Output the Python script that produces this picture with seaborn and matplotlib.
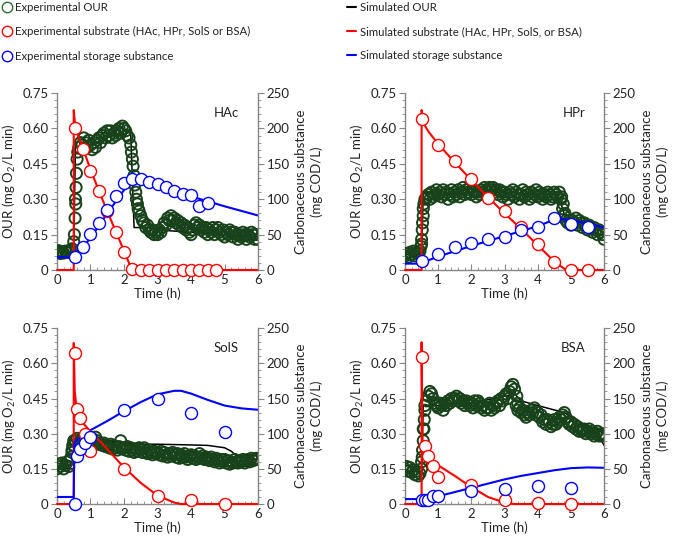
import numpy as np
import matplotlib
matplotlib.use('Agg')
import matplotlib.pyplot as plt
import seaborn as sns
from matplotlib.lines import Line2D
from matplotlib.ticker import MultipleLocator, FuncFormatter

sns.set_style('ticks')
plt.rcParams['font.family'] = ['Lato', 'DejaVu Sans']
plt.rcParams['mathtext.default'] = 'regular'

GREEN = '#18431a'
RED = '#ff0000'
BLUE = '#0000ff'
GREY = '#868686'
TXT = '#222222'
FS = 9.5

# experimental OUR, one value every 0.05 h (rows = half hours)
our_hac = [
    0.075, 0.082, 0.070, 0.078, 0.072, 0.080, 0.074, 0.079, 0.085, 0.090,
    0.120, 0.300, 0.470, 0.520, 0.540, 0.530, 0.560, 0.540, 0.520, 0.550,
    0.530, 0.510, 0.540, 0.520, 0.550, 0.560, 0.540, 0.570, 0.580, 0.560,
    0.590, 0.570, 0.590, 0.560, 0.580, 0.570, 0.590, 0.600, 0.580, 0.610,
    0.600, 0.590, 0.570, 0.560, 0.530, 0.470, 0.400, 0.330, 0.280, 0.250,
    0.230, 0.210, 0.200, 0.180, 0.190, 0.170, 0.160, 0.170, 0.150, 0.160,
    0.150, 0.170, 0.160, 0.180, 0.200, 0.190, 0.220, 0.210, 0.230, 0.210,
    0.220, 0.200, 0.210, 0.190, 0.200, 0.180, 0.190, 0.170, 0.180, 0.160,
    0.150, 0.170, 0.190, 0.200, 0.180, 0.190, 0.170, 0.180, 0.160, 0.180,
    0.150, 0.170, 0.160, 0.180, 0.150, 0.170, 0.180, 0.160, 0.150, 0.170,
    0.140, 0.160, 0.150, 0.170, 0.160, 0.140, 0.160, 0.150, 0.130, 0.150,
    0.140, 0.160, 0.150, 0.130, 0.150, 0.140, 0.160, 0.150, 0.130, 0.150,
    0.130]
our_hpr = [
    0.060, 0.070, 0.055, 0.075, 0.065, 0.080, 0.060, 0.075, 0.070, 0.080,
    0.110, 0.260, 0.300, 0.310, 0.320, 0.300, 0.330, 0.310, 0.320, 0.340,
    0.320, 0.330, 0.310, 0.340, 0.320, 0.330, 0.300, 0.320, 0.340, 0.310,
    0.330, 0.320, 0.340, 0.310, 0.330, 0.350, 0.320, 0.340, 0.330, 0.350,
    0.320, 0.340, 0.330, 0.310, 0.330, 0.320, 0.340, 0.330, 0.350, 0.340,
    0.330, 0.350, 0.340, 0.350, 0.330, 0.340, 0.320, 0.340, 0.330, 0.310,
    0.330, 0.320, 0.300, 0.330, 0.320, 0.340, 0.310, 0.330, 0.320, 0.300,
    0.320, 0.340, 0.310, 0.330, 0.320, 0.300, 0.330, 0.310, 0.320, 0.340,
    0.310, 0.330, 0.320, 0.300, 0.320, 0.310, 0.330, 0.320, 0.300, 0.310,
    0.330, 0.320, 0.310, 0.330, 0.300, 0.260, 0.230, 0.210, 0.200, 0.210,
    0.190, 0.210, 0.200, 0.220, 0.190, 0.210, 0.200, 0.180, 0.200, 0.190,
    0.170, 0.190, 0.180, 0.160, 0.180, 0.170, 0.150, 0.170, 0.160, 0.150,
    0.130]
our_sols = [
    0.150, 0.170, 0.160, 0.175, 0.150, 0.165, 0.180, 0.160, 0.190, 0.220,
    0.250, 0.270, 0.280, 0.260, 0.270, 0.280, 0.260, 0.275, 0.270, 0.280,
    0.270, 0.280, 0.260, 0.285, 0.270, 0.255, 0.260, 0.250, 0.260, 0.245,
    0.250, 0.240, 0.255, 0.235, 0.250, 0.240, 0.230, 0.245, 0.270, 0.235,
    0.240, 0.230, 0.245, 0.225, 0.240, 0.230, 0.220, 0.235, 0.225, 0.240,
    0.230, 0.220, 0.240, 0.225, 0.215, 0.230, 0.220, 0.210, 0.225, 0.215,
    0.220, 0.210, 0.225, 0.205, 0.220, 0.210, 0.200, 0.215, 0.205, 0.220,
    0.210, 0.200, 0.215, 0.195, 0.210, 0.200, 0.215, 0.200, 0.190, 0.205,
    0.210, 0.195, 0.205, 0.190, 0.200, 0.215, 0.195, 0.205, 0.190, 0.200,
    0.195, 0.185, 0.200, 0.190, 0.180, 0.195, 0.185, 0.175, 0.190, 0.180,
    0.190, 0.175, 0.185, 0.170, 0.180, 0.175, 0.190, 0.180, 0.175, 0.185,
    0.180, 0.190, 0.175, 0.185, 0.190, 0.180, 0.195, 0.185, 0.190, 0.195,
    0.190]
our_bsa = [
    0.150, 0.160, 0.140, 0.155, 0.135, 0.145, 0.125, 0.140, 0.120, 0.130,
    0.180, 0.320, 0.420, 0.440, 0.460, 0.480, 0.470, 0.450, 0.430, 0.420,
    0.410, 0.430, 0.420, 0.400, 0.430, 0.420, 0.440, 0.430, 0.450, 0.440,
    0.450, 0.460, 0.440, 0.450, 0.430, 0.440, 0.420, 0.440, 0.430, 0.420,
    0.430, 0.410, 0.440, 0.420, 0.440, 0.430, 0.410, 0.420, 0.400, 0.410,
    0.410, 0.430, 0.400, 0.420, 0.410, 0.430, 0.440, 0.420, 0.450, 0.440,
    0.460, 0.470, 0.450, 0.480, 0.500, 0.510, 0.490, 0.420, 0.400, 0.410,
    0.390, 0.400, 0.380, 0.370, 0.390, 0.380, 0.400, 0.390, 0.410, 0.380,
    0.390, 0.370, 0.380, 0.350, 0.360, 0.340, 0.360, 0.350, 0.330, 0.340,
    0.360, 0.340, 0.350, 0.370, 0.360, 0.380, 0.390, 0.370, 0.350, 0.340,
    0.350, 0.330, 0.340, 0.320, 0.330, 0.310, 0.320, 0.310, 0.320, 0.300,
    0.310, 0.320, 0.300, 0.310, 0.290, 0.300, 0.310, 0.290, 0.300, 0.290,
    0.300]

# extra OUR readings on the steep rises / drops
jump_hac_t = [0.52, 0.54, 0.56, 0.57, 0.58, 0.62, 2.22, 2.27, 2.32, 2.37, 2.42]
jump_hac = [0.15, 0.22, 0.28, 0.35, 0.41, 0.50, 0.50, 0.44, 0.36, 0.30, 0.26]
jump_hpr_t = [0.48, 0.50, 0.52, 0.53, 0.55, 0.57, 4.72, 4.77, 4.82]
jump_hpr = [0.10, 0.13, 0.17, 0.20, 0.23, 0.28, 0.31, 0.28, 0.24]
jump_sols_t = [0.42, 0.45, 0.47, 0.50]
jump_sols = [0.20, 0.23, 0.25, 0.27]
jump_bsa_t = [0.50, 0.52, 0.53, 0.55, 0.57, 0.58, 0.60, 3.37, 3.40]
jump_bsa = [0.15, 0.20, 0.23, 0.27, 0.32, 0.36, 0.40, 0.46, 0.43]

# simulated OUR
sim_our_hac_t = [0, 0.5, 0.55, 0.7, 1.0, 1.5, 2.0, 2.2, 2.3, 2.7, 3.0, 4.0, 5.0, 6.0]
sim_our_hac = [0.075, 0.075, 0.52, 0.52, 0.53, 0.56, 0.59, 0.58, 0.18, 0.18, 0.17, 0.16, 0.15, 0.14]
sim_our_hpr_t = [0, 0.5, 0.55, 1.0, 2.0, 3.0, 4.0, 4.6, 4.75, 4.85, 5.5, 6.0]
sim_our_hpr = [0.065, 0.065, 0.33, 0.32, 0.33, 0.33, 0.32, 0.32, 0.26, 0.21, 0.19, 0.16]
sim_our_sols_t = [0, 0.5, 0.55, 1.0, 1.5, 2.0, 2.5, 3.0, 4.0, 4.5, 5.0, 5.2, 5.4, 6.0]
sim_our_sols = [0.15, 0.15, 0.28, 0.28, 0.27, 0.26, 0.255, 0.255, 0.252, 0.25, 0.24, 0.225, 0.20, 0.19]
sim_our_bsa_t = [0, 0.5, 0.55, 1.0, 2.0, 3.0, 3.3, 3.5, 4.0, 4.8, 5.5, 5.8, 6.0]
sim_our_bsa = [0.14, 0.14, 0.42, 0.42, 0.43, 0.46, 0.47, 0.44, 0.42, 0.39, 0.33, 0.30, 0.25]

# experimental substrate (mg COD/L)
sub_hac_t = [0.55, 0.78, 1.0, 1.25, 1.5, 1.75, 2.0, 2.25, 2.5, 2.75, 3.0, 3.25, 3.5, 3.75, 4.0, 4.25, 4.5, 4.75]
sub_hac = [201, 171, 140, 112, 83, 53, 26, 1, 0, 0, 0, 0, 0, 0, 0, 0, 0, 0]
sub_hpr_t = [0.5, 1.0, 1.5, 2.0, 2.5, 3.0, 3.5, 4.0, 4.5, 5.0, 5.5]
sub_hpr = [213, 177, 154, 128, 102, 84, 61, 37, 11, 0, 0]
sub_sols_t = [0.55, 0.61, 0.7, 0.85, 1.0, 2.0, 3.0, 4.0, 5.0]
sub_sols = [215, 135, 122, 100, 75, 50, 11, 5, 0]
sub_bsa_t = [0.5, 0.6, 0.69, 0.84, 1.0, 2.0, 3.0, 4.0, 5.0]
sub_bsa = [209, 82, 68, 54, 38, 27, 6, 1, 0]

# simulated substrate
sim_sub_hac_t = [0, 0.5, 0.5, 0.55, 0.78, 1.0, 1.25, 1.5, 1.75, 2.0, 2.2, 2.3, 6.0]
sim_sub_hac = [0, 0, 226, 200, 171, 142, 112, 83, 55, 27, 4, 0, 0]
sim_sub_hpr_t = [0, 0.5, 0.5, 0.55, 0.7, 1.0, 1.5, 2.0, 2.5, 3.0, 3.5, 4.0, 4.5, 4.85, 6.0]
sim_sub_hpr = [0, 0, 226, 208, 196, 178, 152, 127, 103, 80, 58, 35, 12, 0, 0]
sim_sub_sols_t = [0, 0.5, 0.5, 0.53, 0.6, 0.7, 0.85, 1.0, 1.5, 2.0, 2.5, 3.0, 3.5, 3.7, 6.0]
sim_sub_sols = [0, 0, 229, 160, 130, 120, 111, 103, 78, 52, 30, 12, 2, 0, 0]
sim_sub_bsa_t = [0, 0.5, 0.5, 0.53, 0.6, 1.0, 1.5, 2.0, 2.5, 3.0, 3.3, 6.0]
sim_sub_bsa = [0, 0, 230, 72, 68, 55, 40, 24, 10, 2, 0, 0]

# experimental storage substance
sto_hac_t = [0.55, 0.78, 1.0, 1.25, 1.5, 1.75, 2.0, 2.25, 2.5, 2.75, 3.0, 3.25, 3.5, 3.75, 4.0, 4.25, 4.5]
sto_hac = [19, 33, 51, 67, 85, 105, 123, 128, 128, 124, 122, 117, 111, 108, 106, 91, 94]
sto_hpr_t = [0.5, 1.0, 1.5, 2.0, 2.5, 3.0, 3.5, 4.0, 4.5, 5.0, 5.5]
sto_hpr = [13, 22, 32, 38, 44, 47, 56, 61, 73, 65, 61]
sto_sols_t = [0.55, 0.61, 0.7, 0.85, 1.0, 2.0, 3.0, 4.0, 5.0]
sto_sols = [0, 68, 78, 87, 96, 133, 149, 129, 103]
sto_bsa_t = [0.5, 0.6, 0.69, 0.84, 1.0, 2.0, 3.0, 4.0, 5.0]
sto_bsa = [6, 6, 6, 12, 12, 19, 22, 25, 23]

# simulated storage substance
sim_sto_hac_t = [0, 0.5, 1.0, 1.5, 2.0, 2.25, 3.0, 4.0, 5.0, 6.0]
sim_sto_hac = [18, 18, 45, 80, 113, 128, 118, 104, 90, 77]
sim_sto_hpr_t = [0, 0.5, 0.55, 1.0, 2.0, 3.0, 4.0, 4.6, 5.0, 5.5, 6.0]
sim_sto_hpr = [9, 9, 11, 19, 34, 48, 62, 73, 70, 66, 60]
sim_sto_sols_t = [0, 0.5, 0.52, 0.7, 1.0, 1.5, 2.0, 2.5, 3.0, 3.5, 3.7, 4.0, 4.5, 5.0, 5.5, 6.0]
sim_sto_sols = [10, 10, 88, 95, 105, 118, 132, 145, 156, 161, 161, 157, 148, 140, 136, 134]
sim_sto_bsa_t = [0, 0.5, 1.0, 1.5, 2.0, 2.5, 3.0, 3.5, 4.0, 4.5, 5.0, 5.5, 6.0]
sim_sto_bsa = [7, 7, 11, 17, 23, 29, 35, 40, 44, 48, 51, 52, 51.5]

panel_names = ['HAc', 'HPr', 'SolS', 'BSA']
rects = [[0.0844, 0.5055, 0.298, 0.324], [0.600, 0.5055, 0.295, 0.324],
         [0.0844, 0.0769, 0.298, 0.322], [0.600, 0.0769, 0.295, 0.322]]


def draw_panel(rect, name, our, jt, jv, sot, sov, st, sv, sst, ssv, bt, bv, sbt, sbv):
    ax = fig.add_axes(rect)
    t = np.arange(len(our)) * 0.05
    sns.lineplot(x=sot, y=sov, ax=ax, color='black', lw=1.1, sort=False, estimator=None)
    sns.scatterplot(x=np.concatenate([t, jt]), y=np.concatenate([our, jv]), ax=ax,
                    s=64, facecolor='none', edgecolor=GREEN, linewidth=1.4, zorder=3)
    ax.set_xlim(0, 6)
    ax.set_ylim(0, 0.75)
    ax.xaxis.set_major_locator(MultipleLocator(1))
    ax.xaxis.set_minor_locator(MultipleLocator(0.2))
    ax.yaxis.set_major_locator(MultipleLocator(0.15))
    ax.yaxis.set_minor_locator(MultipleLocator(0.03))
    ax.yaxis.set_major_formatter(FuncFormatter(lambda v, _: '0' if abs(v) < 1e-9 else f'{v:.2f}'))
    ax.set_xlabel('Time (h)', fontsize=FS, color=TXT, labelpad=1)
    ax.set_ylabel('OUR (mg O$_2$/L min)', fontsize=FS, color=TXT, labelpad=3)

    ax2 = ax.twinx()
    sns.lineplot(x=sst, y=ssv, ax=ax2, color=RED, lw=1.5, sort=False, estimator=None, clip_on=False)
    sns.lineplot(x=sbt, y=sbv, ax=ax2, color=BLUE, lw=1.5, sort=False, estimator=None)
    sns.scatterplot(x=st, y=sv, ax=ax2, s=75, facecolor='white', edgecolor=RED,
                    linewidth=1.0, zorder=4, clip_on=False)
    sns.scatterplot(x=bt, y=bv, ax=ax2, s=75, facecolor='white', edgecolor=BLUE,
                    linewidth=1.0, zorder=4, clip_on=False)
    ax2.set_ylim(0, 250)
    ax2.set_xlim(0, 6)
    ax2.yaxis.set_major_locator(MultipleLocator(50))
    ax2.yaxis.set_minor_locator(MultipleLocator(10))
    ax2.set_ylabel('Carbonaceous substance\n(mg COD/L)', fontsize=FS, color=TXT,
                   linespacing=1.35, labelpad=4)

    for a in (ax, ax2):
        a.spines['top'].set_visible(False)
        for s in a.spines.values():
            s.set_color(GREY)
            s.set_linewidth(1.0)
    ax2.spines['left'].set_visible(False)
    ax2.spines['bottom'].set_visible(False)
    ax.spines['right'].set_visible(False)

    ax.tick_params(axis='x', which='both', direction='in', colors=GREY, labelcolor=TXT, labelsize=FS, pad=3)
    ax.tick_params(axis='x', which='major', length=4)
    ax.tick_params(axis='x', which='minor', length=2.5)
    ax.tick_params(axis='y', which='both', direction='out', colors=GREY, labelcolor=TXT, labelsize=FS, pad=2)
    ax.tick_params(axis='y', which='major', length=4)
    ax.tick_params(axis='y', which='minor', length=2.5)
    ax2.tick_params(axis='y', which='both', direction='out', colors=GREY, labelcolor=TXT, labelsize=FS, pad=2)
    ax2.tick_params(axis='y', which='major', length=4)
    ax2.tick_params(axis='y', which='minor', length=2.5)

    ax.text(0.905, 0.89, name, transform=ax.transAxes, ha='right', va='center', fontsize=FS, color=TXT)


fig = plt.figure(figsize=(6.75, 5.46), dpi=100)

draw_panel(rects[0], panel_names[0], our_hac, jump_hac_t, jump_hac, sim_our_hac_t, sim_our_hac,
           sub_hac_t, sub_hac, sim_sub_hac_t, sim_sub_hac, sto_hac_t, sto_hac, sim_sto_hac_t, sim_sto_hac)
draw_panel(rects[1], panel_names[1], our_hpr, jump_hpr_t, jump_hpr, sim_our_hpr_t, sim_our_hpr,
           sub_hpr_t, sub_hpr, sim_sub_hpr_t, sim_sub_hpr, sto_hpr_t, sto_hpr, sim_sto_hpr_t, sim_sto_hpr)
draw_panel(rects[2], panel_names[2], our_sols, jump_sols_t, jump_sols, sim_our_sols_t, sim_our_sols,
           sub_sols_t, sub_sols, sim_sub_sols_t, sim_sub_sols, sto_sols_t, sto_sols, sim_sto_sols_t, sim_sto_sols)
draw_panel(rects[3], panel_names[3], our_bsa, jump_bsa_t, jump_bsa, sim_our_bsa_t, sim_our_bsa,
           sub_bsa_t, sub_bsa, sim_sub_bsa_t, sim_sub_bsa, sto_bsa_t, sto_bsa, sim_sto_bsa_t, sim_sto_bsa)

# legend, two columns
LFS = 8.2
mk = dict(marker='o', ls='none', mfc='white', ms=7.5, mew=1.0)
h_exp = [Line2D([], [], mec='#2e6b2e', **mk), Line2D([], [], mec=RED, **mk), Line2D([], [], mec=BLUE, **mk)]
h_sim = [Line2D([], [], color='black', lw=1.5), Line2D([], [], color=RED, lw=1.5),
         Line2D([], [], color=BLUE, lw=1.5)]
lab_exp = ['Experimental OUR', 'Experimental substrate (HAc, HPr, SolS or BSA)',
           'Experimental storage substance']
lab_sim = ['Simulated OUR', 'Simulated substrate (HAc, HPr, SolS, or BSA)',
           'Simulated storage substance']
leg_kw = dict(loc='upper left', frameon=False, fontsize=LFS, handletextpad=0.3,
              labelspacing=1.15, borderaxespad=0.1, borderpad=0.1)
for t in fig.legend(handles=h_exp, labels=lab_exp, bbox_to_anchor=(0.0, 1.0),
                    handlelength=0.8, **leg_kw).get_texts():
    t.set_color(TXT)
for t in fig.legend(handles=h_sim, labels=lab_sim, bbox_to_anchor=(0.511, 1.0),
                    handlelength=0.8, **leg_kw).get_texts():
    t.set_color(TXT)

fig.savefig('out.png', dpi=100)
